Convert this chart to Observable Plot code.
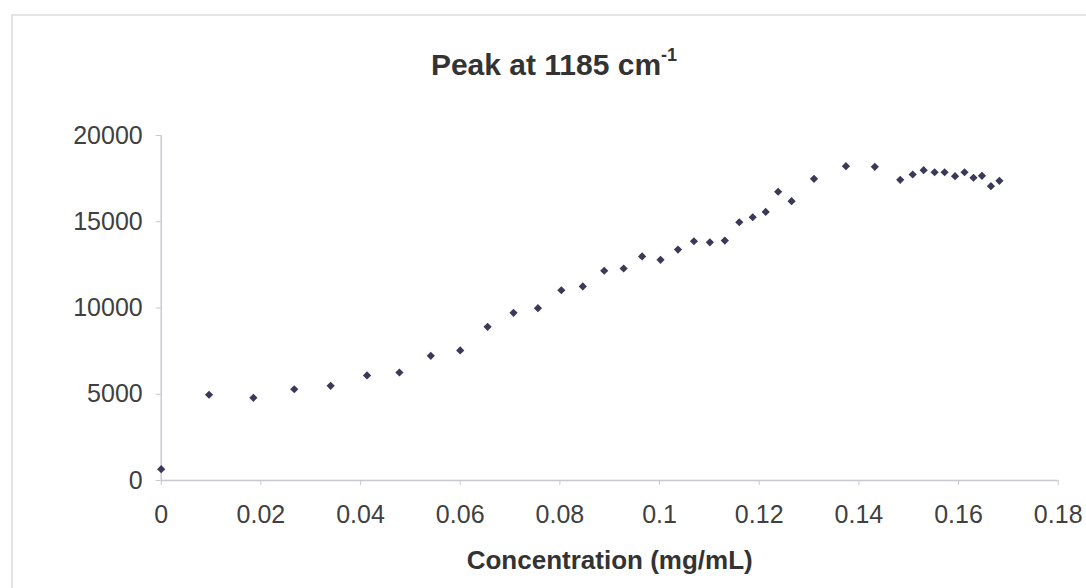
<!DOCTYPE html>
<html>
<head>
<meta charset="utf-8">
<script src="https://cdn.jsdelivr.net/npm/d3@7"></script>
<script src="https://cdn.jsdelivr.net/npm/@observablehq/plot@0.6"></script>
<style>
  html, body { margin: 0; padding: 0; background: #fff; overflow: hidden; }
  #chart { position: relative; width: 1086px; height: 588px; font-family: "Liberation Sans", Arial, sans-serif; }
  #frame { position: absolute; left: 11px; top: 14px; width: 1100px; height: 600px; border: 2px solid #e4e4e6; box-sizing: border-box; }
  #title { position: absolute; left: 11px; width: 1086px; top: 50px; line-height: 30px; font-size: 30px; font-weight: bold; color: #333; text-align: center; }
  #title sup { font-size: 18px; line-height: 0; vertical-align: 14px; }
  #plot { position: absolute; left: 0; top: 0; }
</style>
</head>
<body>
<div id="chart">
  <div id="frame"></div>
  <div id="plot"></div>
  <div id="title">Peak at 1185 cm<sup>-1</sup></div>
</div>
<script>
const concentration = [0, 0.0096, 0.0185, 0.0267, 0.0340, 0.0413, 0.0478, 0.0541, 0.0600, 0.0655,
  0.0707, 0.0756, 0.0803, 0.0846, 0.0889, 0.0928, 0.0965, 0.1002, 0.1037, 0.1069,
  0.1101, 0.1131, 0.1160, 0.1187, 0.1213, 0.1238, 0.1265, 0.1310, 0.1374, 0.1432,
  0.1483, 0.1508, 0.1530, 0.1552, 0.1572, 0.1593, 0.1612, 0.1630, 0.1647, 0.1665, 0.1682];
const intensity = [655, 4970, 4790, 5290, 5490, 6090, 6260, 7230, 7540, 8910,
  9720, 9990, 11030, 11250, 12160, 12290, 12990, 12790, 13390, 13870,
  13810, 13910, 14970, 15260, 15570, 16740, 16190, 17490, 18220, 18185,
  17430, 17740, 17990, 17870, 17870, 17640, 17870, 17550, 17660, 17060, 17370];
const xTicks = [0, 0.02, 0.04, 0.06, 0.08, 0.1, 0.12, 0.14, 0.16, 0.18];
const yTicks = [0, 5000, 10000, 15000, 20000];
const xLabel = "Concentration (mg/mL)";

const data = concentration.map((c, i) => ({c, v: intensity[i]}));
const axisColor = "#c8c8d2";
const textColor = "#404040";

const chart = Plot.plot({
  width: 1086,
  height: 588,
  marginLeft: 160.7,
  marginRight: 28.3,
  marginTop: 135,
  marginBottom: 108,
  style: {fontFamily: "'Liberation Sans', Arial, sans-serif", background: "transparent", overflow: "visible"},
  x: {domain: [0, 0.18]},
  y: {domain: [0, 20000]},
  marks: [
    Plot.ruleY([0], {stroke: axisColor, strokeWidth: 1.5}),
    Plot.ruleX([0], {stroke: axisColor, strokeWidth: 1.5}),
    Plot.axisX({ticks: xTicks, tickFormat: d3.format("~g"), tickSize: 5, tickPadding: 20,
      fontSize: 25, color: textColor, stroke: axisColor, label: null}),
    Plot.axisY({ticks: yTicks, tickFormat: d3.format("d"), tickSize: 5, tickPadding: 13.5,
      fontSize: 25, color: textColor, stroke: axisColor, label: null}),
    Plot.text([xLabel], {frameAnchor: "bottom", lineAnchor: "bottom", dy: 88, fontSize: 26,
      fontWeight: "bold", fill: "#333"}),
    Plot.dot(data, {x: "c", y: "v", symbol: "diamond2", r: 3.7, fill: "#3a3a58", stroke: "none"})
  ]
});
document.getElementById("plot").appendChild(chart);
</script>
</body>
</html>
